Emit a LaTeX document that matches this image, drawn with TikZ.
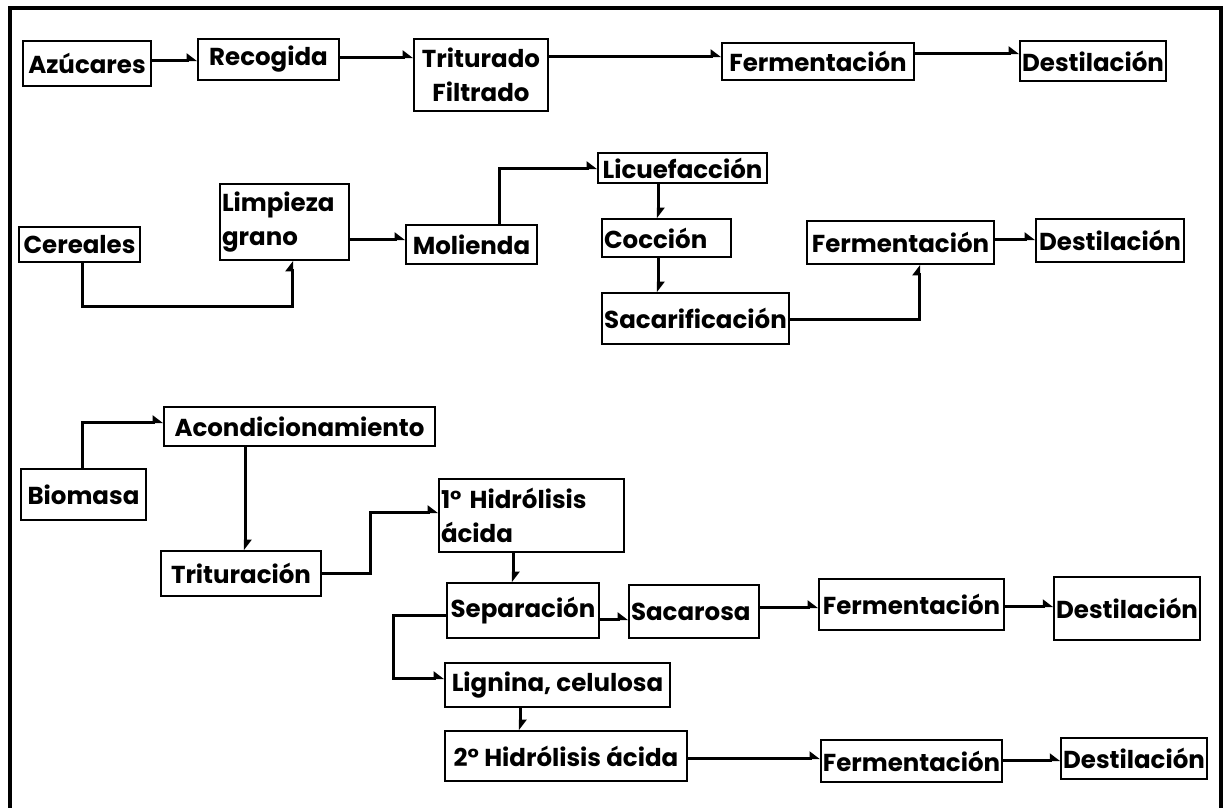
\documentclass[tikz,border=0pt]{standalone}
\usepackage{fontspec}
\setmainfont{Poppins}
\usetikzlibrary{arrows.meta}

\tikzset{
  box/.style={draw, line width=1.6pt, inner xsep=2pt, inner ysep=0pt,
    font=\fontsize{24.5}{34}\selectfont\bfseries, align=center},
  lbox/.style={box, align=left},
  link/.style={line width=3pt, line join=miter,
    -{Triangle[harpoon, length=9pt, width=13pt]}},
}

\begin{document}
\begin{tikzpicture}[x=1pt, y=-1pt]
\useasboundingbox (0,0) rectangle (1225,807);
\fill[white] (0,0) rectangle (1225,807);
% outer frame (its lower edge lies below the page)
\draw[line width=3.2pt] (10,830) -- (10,8) -- (1221,8) -- (1221,830);

% ---- sugars line ----
\node[box, minimum width=128, minimum height=45] (az)   at (87,63.5)   {Azúcares};
\node[box, minimum width=141, minimum height=41] (rec)  at (268.5,59.5) {Recogida};
\node[box, minimum width=134, minimum height=72] (trit) at (481,75)    {Triturado\\Filtrado};
\node[box, minimum width=192, minimum height=37] (fer1) at (818,61.5)  {Fermentación};
\node[box, minimum width=146, minimum height=40] (des1) at (1093,61)   {Destilación};

\draw[link] (az.east |- 0,60)   -- (rec.west |- 0,60);
\draw[link] (rec.east |- 0,57)  -- (trit.west |- 0,57);
\draw[link] (trit.east |- 0,56) -- (fer1.west |- 0,56);
\draw[link] (fer1.east |- 0,53) -- (des1.west |- 0,53);

% ---- cereals line ----
\node[box, minimum width=121, minimum height=35] (cer)  at (79.5,244.5) {Cereales};
\node[lbox, text width=125, minimum height=76] (limp) at (284.5,222) {Limpieza\\grano};
\node[box, minimum width=131, minimum height=39] (mol)  at (471.5,244.5) {Molienda};
\node[box, minimum width=169, minimum height=30] (licu) at (682.5,168)  {Licuefacción};
\node[lbox, text width=125, minimum height=38] (coc)  at (666.5,238)  {Cocción};
\node[box, minimum width=183, minimum height=51] (sac)  at (695.5,318.5) {Sacarificación};
\node[box, minimum width=187, minimum height=43] (fer2) at (900.5,242.5) {Fermentación};
\node[box, minimum width=148, minimum height=43] (des2) at (1110,240.5) {Destilación};

\draw[link] (cer.south -| 82,0) -- (82,306) -| (limp.south -| 292,0);
\draw[link] (limp.east |- 0,239) -- (mol.west |- 0,239);
\draw[link] (mol.north -| 499,0) |- (licu.west);
\draw[link] (licu.south -| 658,0) -- (coc.north -| 658,0);
\draw[link] (coc.south -| 658,0) -- (sac.north -| 658,0);
\draw[link] (sac.east |- 0,319) -| (fer2.south -| 919,0);
\draw[link] (fer2.east |- 0,239) -- (des2.west |- 0,239);

% ---- biomass line ----
\node[box, minimum width=125, minimum height=51] (bio)   at (83.5,494.5) {Biomasa};
\node[box, minimum width=271, minimum height=39] (acond) at (299.5,426.5) {Acondicionamiento};
\node[box, minimum width=160, minimum height=45] (tritu) at (241,573.5) {Trituración};
\node[lbox, text width=181, minimum height=73] (hid1) at (531.5,515.5) {1° Hidrólisis\\ácida};
\node[box, minimum width=152, minimum height=55] (sep)  at (523,610.5) {Separación};
\node[lbox, text width=126, minimum height=53] (sacar) at (694,611.5) {Sacarosa};
\node[box, minimum width=185, minimum height=51] (fer3) at (911.5,604.5) {Fermentación};
\node[box, minimum width=144, minimum height=63] (des3) at (1127,608.5) {Destilación};
\node[box, minimum width=225, minimum height=44] (lig)  at (557.5,685) {Lignina, celulosa};
\node[box, minimum width=242, minimum height=50] (hid2) at (566,756) {2° Hidrólisis ácida};
\node[box, minimum width=181, minimum height=42] (fer4) at (911.5,761) {Fermentación};
\node[box, minimum width=142, minimum height=41] (des4) at (1134,758.5) {Destilación};

\draw[link] (bio.north -| 82,0) |- (acond.west |- 0,422);
\draw[link] (acond.south -| 245,0) -- (tritu.north -| 245,0);
\draw[link] (tritu.east |- 0,573) -- (370,573) |- (hid1.west |- 0,512);
\draw[link] (hid1.south -| 513,0) -- (sep.north -| 513,0);
\draw[link] (sep.east |- 0,619) -- (sacar.west |- 0,619);
\draw[link] (sacar.east |- 0,607) -- (fer3.west |- 0,607);
\draw[link] (fer3.east |- 0,606) -- (des3.west |- 0,606);
\draw[link] (sep.west |- 0,615) -- (393,615) |- (lig.west |- 0,678);
\draw[link] (lig.south -| 520,0) -- (hid2.north -| 520,0);
\draw[link] (hid2.east |- 0,758) -- (fer4.west |- 0,758);
\draw[link] (fer4.east |- 0,760) -- (des4.west |- 0,760);
\end{tikzpicture}
\end{document}
